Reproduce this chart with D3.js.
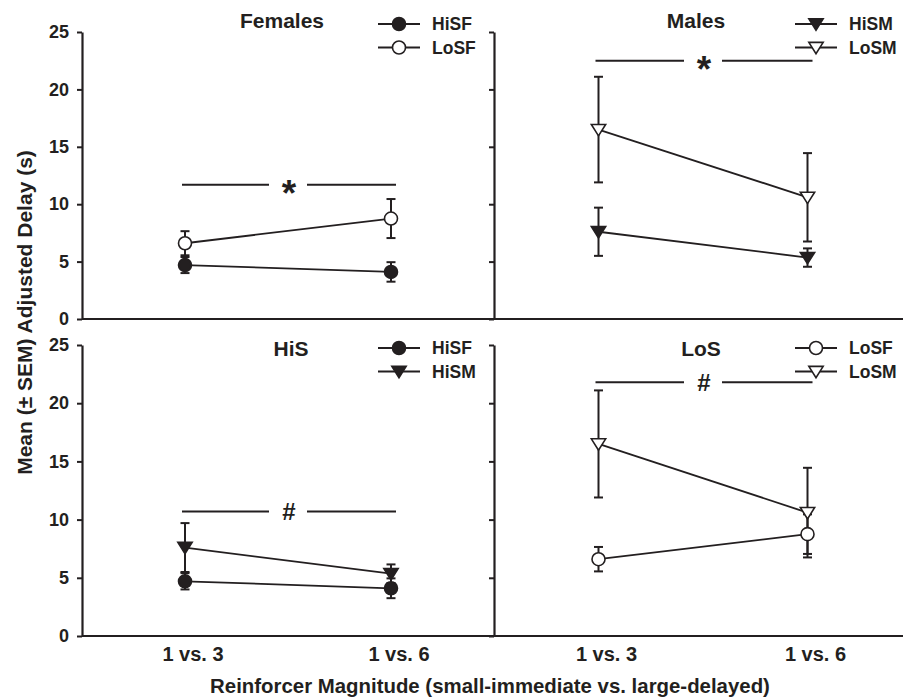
<!DOCTYPE html>
<html>
<head>
<meta charset="utf-8">
<script src="https://cdn.jsdelivr.net/npm/d3@7"></script>
<style>
  html, body { margin: 0; padding: 0; background: #fff; }
  svg { display: block; }
  text { font-family: "Liberation Sans", Arial, Helvetica, sans-serif; font-weight: bold; fill: #231f20; }
</style>
</head>
<body>
<div id="chart"></div>
<script>
// Reinforcer magnitude conditions on the x axis
const categories = ["1 vs. 3", "1 vs. 6"];

// Group means and SEMs of adjusted delay (s)
const hiSF = [4.7, 4.1];
const hiSFsem = [0.7, 0.85];
const loSF = [6.6, 8.75];
const loSFsem = [1.05, 1.7];
const hiSM = [7.6, 5.35];
const hiSMsem = [2.1, 0.8];
const loSM = [16.5, 10.6];
const loSMsem = [4.6, 3.85];

const yTicks = [0, 5, 10, 15, 20, 25];

// Panels: title, the two groups compared, significance bar level and symbol
const panelTitles = ["Females", "Males", "HiS", "LoS"];
const panelGroups = [["HiSF", "LoSF"], ["HiSM", "LoSM"], ["HiSF", "HiSM"], ["LoSF", "LoSM"]];
const sigLevels = [11.7, 22.5, 10.7, 21.8];
const sigSymbols = ["*", "*", "#", "#"];

const xTitle = "Reinforcer Magnitude (small-immediate vs. large-delayed)";
const yTitle = "Mean (\u00B1 SEM) Adjusted Delay (s)";

const groups = {
  HiSF: { mean: hiSF, sem: hiSFsem, shape: "circle", filled: true },
  LoSF: { mean: loSF, sem: loSFsem, shape: "circle", filled: false },
  HiSM: { mean: hiSM, sem: hiSMsem, shape: "triangle", filled: true },
  LoSM: { mean: loSM, sem: loSMsem, shape: "triangle", filled: false }
};

const W = 903, H = 698;
const ink = "#231f20";

const svg = d3.select("#chart").append("svg")
  .attr("width", W).attr("height", H);

// layout of the 2x2 grid
const cols = [{ x0: 82, x1: 494 }, { x0: 494, x1: 912 }];
const rows = [{ y0: 319, y1: 32, legendY: 24, titleY: 28 }, { y0: 636, y1: 345, legendY: 348, titleY: 356 }];
const titleShift = [-6, -4, 3, 1];

function marker(sel, shape, filled, size) {
  if (shape === "circle") {
    sel.append("circle").attr("r", size)
      .attr("fill", filled ? ink : "#fff")
      .attr("stroke", ink).attr("stroke-width", 1.6);
  } else {
    const w = size * 1.1, h = size * 1.75;
    sel.append("path")
      .attr("d", `M${-w},${-h * 0.45}L${w},${-h * 0.45}L0,${h * 0.55}Z`)
      .attr("fill", filled ? ink : "#fff")
      .attr("stroke", ink).attr("stroke-width", 1.6)
      .attr("stroke-linejoin", "miter");
  }
}

panelTitles.forEach((title, i) => {
  const c = cols[i % 2], r = rows[Math.floor(i / 2)];
  const x = d3.scalePoint().domain(categories).range([c.x0, c.x1]).padding(0.5);
  const y = d3.scaleLinear().domain([0, 25]).range([r.y0, r.y1]);
  const g = svg.append("g");

  // y axis
  const yAxis = d3.axisLeft(y).tickValues(yTicks).tickSize(5).tickSizeOuter(0).tickPadding(8);
  if (i % 2 === 1) yAxis.tickFormat("");
  const ya = g.append("g").attr("transform", `translate(${c.x0},0)`).call(yAxis);
  ya.select(".domain").attr("stroke", ink).attr("stroke-width", 2.2);
  ya.selectAll(".tick line").attr("stroke", ink).attr("stroke-width", 2);
  ya.selectAll(".tick text").attr("font-size", 18).attr("fill", ink)
    .style("font-family", "'Liberation Sans', Arial, sans-serif").style("font-weight", "bold");

  // x axis baseline
  g.append("line").attr("x1", c.x0).attr("x2", c.x1)
    .attr("y1", y(0)).attr("y2", y(0))
    .attr("stroke", ink).attr("stroke-width", 2.2);

  if (i >= 2) {
    g.selectAll(".xlab").data(categories).enter().append("text")
      .attr("x", d => x(d) + 8).attr("y", 661)
      .attr("text-anchor", "middle").attr("font-size", 20).text(d => d);
  }

  // title
  g.append("text").attr("x", (c.x0 + c.x1) / 2 + titleShift[i] - (i % 2 ? 3 : 0))
    .attr("y", r.titleY).attr("text-anchor", "middle").attr("font-size", 21).text(title);

  // significance bar
  const sy = y(sigLevels[i]);
  const xa = x(categories[0]), xb = x(categories[1]), xm = (xa + xb) / 2;
  g.append("line").attr("x1", xa - 3).attr("x2", xm - 19).attr("y1", sy).attr("y2", sy)
    .attr("stroke", ink).attr("stroke-width", 2);
  g.append("line").attr("x1", xm + 19).attr("x2", xb + 5).attr("y1", sy).attr("y2", sy)
    .attr("stroke", ink).attr("stroke-width", 2);
  if (sigSymbols[i] === "*") {
    g.append("text").attr("x", xm + 1).attr("y", sy + 21).attr("text-anchor", "middle")
      .attr("font-size", 37).text("*");
  } else {
    g.append("text").attr("x", xm + 1).attr("y", sy + 8.5).attr("text-anchor", "middle")
      .attr("font-size", 24).text("#");
  }

  // series: lines, error bars, markers
  const keys = panelGroups[i];
  keys.forEach(k => {
    const s = groups[k];
    const pts = categories.map((cat, j) => ({ x: x(cat), m: s.mean[j], e: s.sem[j] }));
    g.append("path").datum(pts)
      .attr("d", d3.line().x(d => d.x).y(d => y(d.m)))
      .attr("fill", "none").attr("stroke", ink).attr("stroke-width", 1.8);
    pts.forEach(p => {
      g.append("line").attr("x1", p.x).attr("x2", p.x)
        .attr("y1", y(p.m - p.e)).attr("y2", y(p.m + p.e))
        .attr("stroke", ink).attr("stroke-width", 2);
      [p.m - p.e, p.m + p.e].forEach(v => {
        g.append("line").attr("x1", p.x - 4.5).attr("x2", p.x + 4.5)
          .attr("y1", y(v)).attr("y2", y(v))
          .attr("stroke", ink).attr("stroke-width", 2);
      });
    });
  });
  keys.forEach(k => {
    const s = groups[k];
    categories.forEach((cat, j) => {
      const m = g.append("g").attr("transform", `translate(${x(cat)},${y(s.mean[j])})`);
      marker(m, s.shape, s.filled, 6.5);
    });
  });

  // legend
  const lx = c.x0 + (i % 2 ? 301 : 296);
  keys.forEach((k, j) => {
    const s = groups[k];
    const ly = r.legendY + j * 23.5;
    const lg = g.append("g").attr("transform", `translate(${lx},${ly})`);
    lg.append("line").attr("x1", 0).attr("x2", 42).attr("y1", 0).attr("y2", 0)
      .attr("stroke", ink).attr("stroke-width", 2);
    const mk = lg.append("g").attr("transform", "translate(21,0)");
    marker(mk, s.shape, s.filled, 6.5);
    lg.append("text").attr("x", 54).attr("y", 6).attr("font-size", 17.5).text(k);
  });
});

// axis titles
svg.append("text").attr("x", 490).attr("y", 693).attr("text-anchor", "middle")
  .attr("font-size", 20.4).text(xTitle);
svg.append("text").attr("transform", "translate(31.5,312.5) rotate(-90)")
  .attr("text-anchor", "middle").attr("font-size", 21).text(yTitle);
</script>
</body>
</html>
